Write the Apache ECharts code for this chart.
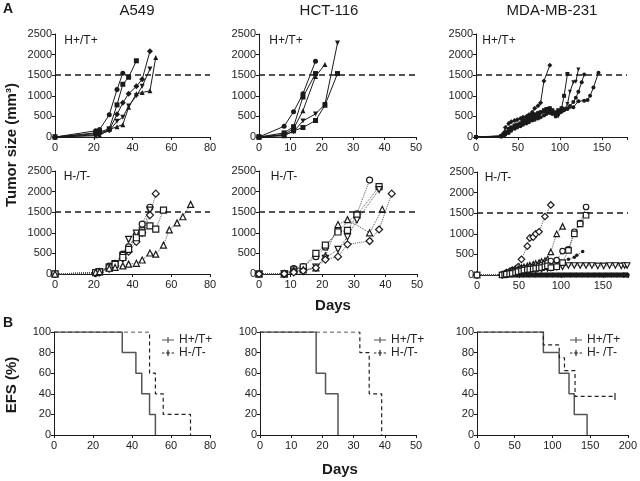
<!DOCTYPE html>
<html><head><meta charset="utf-8">
<script src="https://cdn.jsdelivr.net/npm/echarts@6/dist/echarts.min.js"></script>
<style>html,body{margin:0;padding:0;background:#fff}#c{width:640px;height:481px}</style>
</head><body><div id="c"></div>
<script>
// ---------- DATA ----------
const thresholdMm3 = 1500;
const tumorTicks = [0, 500, 1000, 1500, 2000, 2500];
const efsTicks = [0, 20, 40, 60, 80, 100];

// A549, H+/T+ (tumor size, mm3)
const a549PosCircle   = [[0,0],[21,150],[23,180],[28,540],[32,1150],[35,1550]];
const a549PosSquare   = [[0,0],[21,100],[23,120],[28,200],[32,780],[35,1280],[38,1450],[42,1850]];
const a549PosDiamond  = [[0,0],[21,80],[23,100],[28,170],[32,550],[35,830],[38,1050],[42,1230],[45,1400],[49,2080]];
const a549PosDownTri  = [[0,0],[21,50],[23,70],[28,150],[32,380],[35,480],[38,750],[42,1000],[45,1230],[49,1650]];
const a549PosTriangle = [[0,0],[21,30],[23,40],[28,180],[32,250],[35,300],[38,720],[42,1050],[45,1080],[49,1120],[52,1930]];

// HCT-116, H+/T+
const hctPosCircle   = [[0,0],[8,260],[11,610],[14,1050],[18,1840]];
const hctPosSquare   = [[0,0],[8,100],[11,250],[14,970],[18,1540]];
const hctPosTriangle = [[0,0],[8,60],[11,200],[14,640],[18,1470],[21,1760]];
const hctPosDownTri  = [[0,0],[8,50],[11,130],[14,390],[18,560],[21,790],[25,2280]];
const hctPosDiamond  = [[0,0],[8,30],[11,150],[14,230],[18,400],[21,770],[25,1540]];

// MDA-MB-231, H+/T+
const mdaPosDiamond = [[0,0],[30,30],[33,100],[35,230],[39,330],[42,370],[46,400],[49,420],[53,450],[56,480],[60,500],[63,540],[67,600],[70,700],[74,760],[77,830],[81,1360],[88,1740]];
const mdaPosSquare  = [[0,0],[30,20],[33,60],[35,100],[39,180],[42,230],[46,280],[49,300],[53,330],[56,400],[60,450],[63,480],[67,530],[70,550],[74,580],[77,600],[81,650],[84,680],[88,700],[91,650],[95,600],[98,650],[102,700],[105,1000],[109,1530]];
const mdaPosDownTri = [[0,0],[30,10],[33,40],[35,80],[39,120],[42,200],[46,250],[49,280],[53,300],[56,330],[60,350],[63,380],[67,420],[70,450],[74,500],[77,560],[81,600],[84,640],[88,650],[91,620],[95,550],[98,500],[102,600],[105,650],[109,800],[112,1100],[116,1330],[119,1340],[122,1640]];
const mdaPosCircle  = [[0,0],[30,20],[33,50],[35,120],[39,200],[42,230],[46,260],[49,300],[53,330],[56,350],[60,380],[63,400],[67,450],[70,480],[74,520],[77,600],[81,620],[84,600],[88,580],[91,560],[95,520],[98,560],[102,620],[105,680],[109,700],[112,750],[116,850],[119,950],[122,1100],[126,1330],[129,1520]];
const mdaPosCircle2 = [[0,0],[30,10],[33,30],[35,60],[39,100],[42,150],[46,200],[49,230],[53,260],[56,300],[60,330],[63,360],[67,400],[70,420],[74,450],[77,480],[81,520],[84,560],[88,600],[91,620],[95,500],[98,580],[102,620],[105,650],[109,680],[116,720],[122,870],[129,880],[133,900],[136,1000],[140,1200],[146,1560]];

// A549, H-/T-
const a549NegCircle   = [[0,0],[21,40],[23,60],[28,190],[31,260],[35,480],[38,660],[42,950],[45,1210],[49,1620]];
const a549NegDownTri  = [[0,0],[21,30],[23,50],[28,170],[31,250],[35,450],[38,840],[42,990],[45,1050],[49,1550]];
const a549NegDiamond  = [[0,0],[21,20],[23,40],[28,130],[31,200],[35,380],[38,540],[42,780],[45,1000],[49,1430],[52,1950]];
const a549NegSquare   = [[0,0],[21,30],[23,50],[28,150],[31,230],[35,400],[38,600],[42,880],[45,1000],[49,1170],[52,1090],[56,1550]];
const a549NegTriangle = [[0,0],[21,40],[23,56],[28,140],[31,160],[35,195],[38,240],[42,260],[45,340],[49,510],[52,480],[56,700],[59,1070],[63,1240],[66,1390],[70,1690]];

// HCT-116, H-/T-
const hctNegCircle   = [[0,0],[8,10],[11,130],[14,180],[18,420],[21,650],[25,1050],[31,1460],[35,2280]];
const hctNegSquare   = [[0,0],[8,5],[11,100],[14,170],[18,500],[21,700],[25,1020],[28,1060],[31,1430],[38,2120]];
const hctNegDownTri  = [[0,0],[8,5],[11,50],[14,60],[18,170],[21,380],[25,600],[28,900],[31,1310],[38,2050]];
const hctNegTriangle = [[0,0],[8,5],[11,80],[14,100],[18,150],[21,440],[25,1200],[28,1320],[35,1000],[39,1570]];
const hctNegDiamond  = [[0,0],[8,5],[11,40],[14,80],[18,150],[21,350],[25,420],[28,720],[35,800],[38,1080],[42,1950]];

// MDA-MB-231, H-/T-
const mdaNegDiamond  = [[0,0],[30,10],[33,30],[35,60],[39,90],[42,120],[46,150],[49,200],[53,380],[60,700],[63,900],[67,920],[70,1000],[74,1050],[81,1420],[88,1700]];
const mdaNegTriangle = [[0,0],[30,10],[33,25],[35,50],[39,80],[42,110],[46,130],[49,150],[53,180],[56,200],[60,220],[63,240],[67,260],[70,280],[74,300],[77,330],[81,350],[84,380],[88,560],[95,1000],[102,1180]];
const mdaNegCircle   = [[0,0],[30,5],[33,20],[35,40],[39,60],[42,80],[46,100],[49,120],[53,150],[56,160],[60,170],[63,180],[67,190],[70,200],[74,220],[77,240],[81,270],[84,300],[88,340],[95,360],[102,580],[109,620],[116,1050],[123,1260],[130,1650]];
const mdaNegSquare   = [[0,0],[30,0],[33,10],[35,20],[39,30],[42,40],[46,60],[49,80],[53,100],[56,120],[60,130],[63,140],[67,150],[70,160],[74,170],[77,180],[81,200],[84,220],[88,180],[95,200],[102,300],[109,600],[116,1000],[123,1240],[130,1450]];
const mdaNegDot      = [[0,0],[30,5],[35,20],[42,40],[49,60],[56,80],[63,100],[70,120],[77,150],[84,180],[88,200],[95,250],[102,300],[109,380],[116,430],[119,480],[126,570]];
const mdaNegDownTri  = [[0,0],[30,0],[35,10],[42,30],[49,50],[56,80],[63,100],[70,120],[77,150],[84,160],[88,170],[95,190],[102,200],[109,230],[116,230],[123,230],[130,230],[137,230],[144,220],[151,220],[158,230],[165,230],[172,220],[176,230],[179,230]];
const mdaNegZeroA    = [[0,0],[30,0],[35,0],[42,0],[49,0],[56,0],[63,0],[70,0],[77,0],[84,0],[91,0],[98,0],[105,0],[112,0],[119,0],[126,0],[133,0],[140,0],[147,0],[154,0],[161,0],[168,0],[175,0],[179,0]];
const mdaNegZeroB    = [[0,0],[32,0],[39,0],[46,0],[53,0],[60,0],[67,0],[74,0],[81,0],[88,0],[95,0],[102,0],[109,0],[116,0],[123,0],[130,0],[137,0],[144,0],[151,0],[158,0],[165,0],[172,0],[177,0]];

// Event-free survival (%)
const a549EfsPos = [[0,100],[35,80],[42,60],[45,40],[49,20],[52,0]];
const a549EfsNeg = [[0,100],[49,60],[52,40],[56,20],[70,0]];
const hctEfsPos  = [[0,100],[18,60],[21,40],[25,0]];
const hctEfsNeg  = [[0,100],[32,80],[35,40],[39,0]];
const mdaEfsPos  = [[0,100],[88,80],[109,60],[122,40],[129,20],[146,0]];
const mdaEfsNeg  = [[0,100],[88,87.5],[109,75],[116,62.5],[130,37.5],[183,37.5]];

// ---------- CHART ----------
const FONT = '"Liberation Sans", Arial, Helvetica, sans-serif';
const INK = '#1a1a1a';
const grids = [
  {left:55,  top:34,  width:155, height:103},
  {left:259, top:34,  width:157, height:103},
  {left:476, top:34,  width:151, height:103},
  {left:55,  top:171, width:155, height:103},
  {left:259, top:171, width:158, height:103},
  {left:477, top:172, width:151, height:103},
  {left:54,  top:332, width:156, height:103},
  {left:260, top:332, width:156, height:103},
  {left:477, top:332, width:155, height:103}
];
const xSpec = [[80,20,0],[50,10,0],[180,50,160],[80,20,0],[50,10,0],[180,50,160],[80,20,0],[50,10,0],[200,50,0]];

const xAxis = xSpec.map(([max, interval, hideAbove], i) => ({
  gridIndex: i, type: 'value', min: 0, max, interval,
  axisLine: {show: true, onZero: false, lineStyle: {color: INK, width: 1}},
  axisTick: {show: true, length: 3, lineStyle: {color: INK}},
  splitLine: {show: false},
  axisLabel: {fontFamily: FONT, fontSize: 11, color: '#222', margin: 5,
    formatter: v => (hideAbove && v > hideAbove) ? '' : String(v)}
}));
const yAxis = grids.map((g, i) => {
  const ticks = i < 6 ? tumorTicks : efsTicks;
  return {
    gridIndex: i, type: 'value', min: ticks[0], max: ticks[ticks.length-1], interval: ticks[1]-ticks[0],
    axisLine: {show: true, lineStyle: {color: INK, width: 1}},
    axisTick: {show: true, length: 3, lineStyle: {color: INK}},
    splitLine: {show: false},
    axisLabel: {fontFamily: FONT, fontSize: 11, color: '#222', margin: 3, formatter: v => String(v)}
  };
});

const thresholdLine = {
  silent: true, symbol: 'none', label: {show: false}, animation: false,
  lineStyle: {type: [6, 4], color: INK, width: 1.5},
  data: [{yAxis: thresholdMm3}]
};

function posS(name, data, gi, symbol, rot, opt) {
  opt = opt || {};
  const base = opt.size || (symbol === 'diamond' ? 6 : 5);
  const s = {name, type: 'line', xAxisIndex: gi, yAxisIndex: gi, data, symbol,
    symbolSize: base, symbolRotate: rot || 0,
    lineStyle: {color: INK, width: 1}, itemStyle: {color: INK}, z: 3};
  if (opt.withLine) s.markLine = thresholdLine;
  return s;
}
function negS(name, data, gi, symbol, rot, opt) {
  opt = opt || {};
  const filled = opt.filled;
  const s = {name, type: 'line', xAxisIndex: gi, yAxisIndex: gi, data, symbol,
    symbolSize: opt.size || 6, symbolRotate: rot || 0,
    lineStyle: {color: '#555', width: 1, type: 'dotted'},
    itemStyle: filled ? {color: INK} : {color: '#fff', borderColor: INK, borderWidth: 1.2}, z: 3};
  if (opt.withLine) s.markLine = thresholdLine;
  return s;
}
const tick = 'path://M0,0H1V10H0Z';
function efsS(name, data, gi, dashed, censorLast) {
  return {name, type: 'line', step: 'end', xAxisIndex: gi, yAxisIndex: gi,
    data: data.map((p, k) => (censorLast && k === data.length - 1) ? {value: p} : {value: p, symbol: 'none'}),
    symbol: tick, symbolSize: [1.2, 7], showSymbol: true,
    itemStyle: {color: dashed ? '#222' : '#555'},
    lineStyle: dashed ? {color: '#222', width: 1.2, type: [4, 3]} : {color: '#555', width: 1.5},
    z: dashed ? 4 : 3};
}

const M = {size: 4};
const series = [
  posS('a1', a549PosCircle, 0, 'circle', 0, {withLine: true}),
  posS('a2', a549PosSquare, 0, 'rect'),
  posS('a3', a549PosDiamond, 0, 'diamond'),
  posS('a4', a549PosDownTri, 0, 'triangle', 180),
  posS('a5', a549PosTriangle, 0, 'triangle'),
  posS('h1', hctPosCircle, 1, 'circle', 0, {withLine: true}),
  posS('h2', hctPosSquare, 1, 'rect'),
  posS('h3', hctPosTriangle, 1, 'triangle'),
  posS('h4', hctPosDownTri, 1, 'triangle', 180),
  posS('h5', hctPosDiamond, 1, 'rect'),
  posS('m1', mdaPosDiamond, 2, 'diamond', 0, {size: 5, withLine: true}),
  posS('m2', mdaPosSquare, 2, 'rect', 0, M),
  posS('m3', mdaPosDownTri, 2, 'triangle', 180, M),
  posS('m4', mdaPosCircle, 2, 'circle', 0, M),
  posS('m5', mdaPosCircle2, 2, 'circle', 0, M),

  negS('an1', a549NegCircle, 3, 'circle', 0, {withLine: true}),
  negS('an2', a549NegDownTri, 3, 'triangle', 180),
  negS('an3', a549NegDiamond, 3, 'diamond', 0, {size: 7}),
  negS('an4', a549NegSquare, 3, 'rect'),
  negS('an5', a549NegTriangle, 3, 'triangle'),
  negS('hn1', hctNegCircle, 4, 'circle', 0, {withLine: true}),
  negS('hn2', hctNegSquare, 4, 'rect'),
  negS('hn3', hctNegDownTri, 4, 'triangle', 180),
  negS('hn4', hctNegTriangle, 4, 'triangle'),
  negS('hn5', hctNegDiamond, 4, 'diamond', 0, {size: 7}),
  negS('mn7', mdaNegZeroA, 5, 'circle', 0, {filled: true, size: 5, withLine: true}),
  negS('mn8', mdaNegZeroB, 5, 'rect', 0, {filled: true, size: 5}),
  negS('mn6', mdaNegDownTri, 5, 'triangle', 180, {size: 5.5}),
  negS('mn5', mdaNegDot, 5, 'circle', 0, {filled: true, size: 3.5}),
  negS('mn1', mdaNegDiamond, 5, 'diamond', 0, {size: 6.5}),
  negS('mn2', mdaNegTriangle, 5, 'triangle', 0, {size: 5.5}),
  negS('mn3', mdaNegCircle, 5, 'circle', 0, {size: 5.5}),
  negS('mn4', mdaNegSquare, 5, 'rect', 0, {size: 5.5}),

  efsS('H+/T+', a549EfsPos, 6, false),
  efsS('H-/T-', a549EfsNeg, 6, true),
  efsS('H+/T+', hctEfsPos, 7, false),
  efsS('H-/T-', hctEfsNeg, 7, true),
  efsS('H+/T+', mdaEfsPos, 8, false),
  efsS('H- /T-', mdaEfsNeg, 8, true, true)
];

const solidIcon  = 'path://M0,3.4H12V4.6H0Z M5.4,1H6.6V7H5.4Z';
const dashedIcon = 'path://M0,3.4H2.4V4.6H0Z M4,3.4H8V4.6H4Z M9.6,3.4H12V4.6H9.6Z M5.4,1H6.6V7H5.4Z';
function legendAt(left, names) {
  return {data: [{name: names[0], icon: solidIcon}, {name: names[1], icon: dashedIcon}],
    left, top: 334, orient: 'vertical', padding: 0, itemGap: 1,
    itemWidth: 12, itemHeight: 6, selectedMode: false,
    textStyle: {fontFamily: FONT, fontSize: 12, color: '#222'}};
}

function txt(x, y, text, font, rot) {
  return {type: 'text', x, y, rotation: rot || 0, silent: true,
    style: {text, font, fill: '#1a1a1a', align: 'center', verticalAlign: 'middle'}};
}
const graphic = [
  txt(8, 9, 'A', 'bold 14px ' + FONT),
  txt(8, 323, 'B', 'bold 14px ' + FONT),
  txt(137, 11, 'A549', '15px ' + FONT),
  txt(329, 11, 'HCT-116', '15px ' + FONT),
  txt(552, 11, 'MDA-MB-231', '15px ' + FONT),
  txt(81, 41, 'H+/T+', '12px ' + FONT),
  txt(286, 41, 'H+/T+', '12px ' + FONT),
  txt(499, 41, 'H+/T+', '12px ' + FONT),
  txt(77, 177, 'H-/T-', '12px ' + FONT),
  txt(284, 177, 'H-/T-', '12px ' + FONT),
  txt(498, 178, 'H-/T-', '12px ' + FONT),
  txt(333, 306, 'Days', 'bold 15px ' + FONT),
  txt(340, 470, 'Days', 'bold 15px ' + FONT),
  txt(12, 145, 'Tumor size (mm³)', 'bold 15px ' + FONT, Math.PI / 2),
  txt(12, 385, 'EFS (%)', 'bold 15px ' + FONT, Math.PI / 2)
];

const chart = echarts.init(document.getElementById('c'), null, {renderer: 'canvas'});
chart.setOption({
  animation: false,
  backgroundColor: '#fff',
  textStyle: {fontFamily: FONT},
  grid: grids,
  xAxis, yAxis,
  legend: [
    legendAt(162, ['H+/T+', 'H-/T-']),
    legendAt(374, ['H+/T+', 'H-/T-']),
    legendAt(570, ['H+/T+', 'H- /T-'])
  ],
  graphic,
  series
});
</script></body></html>
